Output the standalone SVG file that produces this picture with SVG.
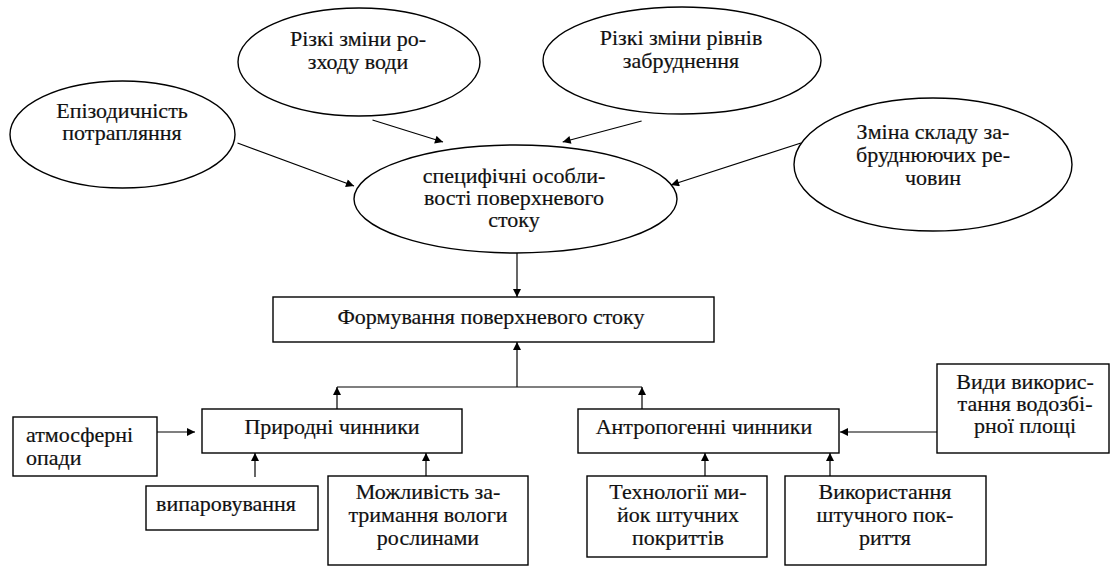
<svg xmlns="http://www.w3.org/2000/svg" width="1113" height="566" viewBox="0 0 1113 566">
<style>
.n{fill:#fff;stroke:#000;stroke-width:1.4}
.t{font-family:"Liberation Serif","Times New Roman","DejaVu Serif",serif;font-size:22px;fill:#111;stroke:#111;stroke-width:0.2;text-anchor:middle}
.l{text-anchor:start}
.c{fill:none;stroke:#000;stroke-width:1.2}
</style>
<defs>
<marker id="ah" viewBox="0 0 10 10" refX="10" refY="5" markerWidth="9" markerHeight="8" orient="auto" markerUnits="userSpaceOnUse">
<path d="M0,0 L10,5 L0,10 z" fill="#000"/>
</marker>
</defs>
<rect width="1113" height="566" fill="#fff"/>
<g id="connectors">
<path class="c" d="M237.5,143 L354,186" marker-end="url(#ah)"/>
<path class="c" d="M372.5,120 L443,142" marker-end="url(#ah)"/>
<path class="c" d="M641.6,121 L562.7,142" marker-end="url(#ah)"/>
<path class="c" d="M801,143 L671,185" marker-end="url(#ah)"/>
<path class="c" d="M517,253 L517,297" marker-end="url(#ah)"/>
<path class="c" d="M517,387 L517,342" marker-end="url(#ah)"/>
<path class="c" d="M337,387 L642,387"/>
<path class="c" d="M337,409 L337,387" marker-end="url(#ah)"/>
<path class="c" d="M642,409 L642,387" marker-end="url(#ah)"/>
<path class="c" d="M157,432 L195,432" marker-end="url(#ah)"/>
<path class="c" d="M255,477 L255,453" marker-end="url(#ah)"/>
<path class="c" d="M426,476 L426,453" marker-end="url(#ah)"/>
<path class="c" d="M937,432 L840,432" marker-end="url(#ah)"/>
<path class="c" d="M705,476 L705,453" marker-end="url(#ah)"/>
<path class="c" d="M830,476 L830,453" marker-end="url(#ah)"/>
</g>
<g id="episodic">
<ellipse class="n" cx="122.5" cy="134.5" rx="112.5" ry="53.5"/>
<text class="t" x="122" y="118">Епізодичність</text>
<text class="t" x="122" y="140">потрапляння</text>
</g>
<g id="flow-changes">
<ellipse class="n" cx="359" cy="62" rx="121" ry="54"/>
<text class="t" x="358" y="46">Різкі зміни ро-</text>
<text class="t" x="358" y="69">зходу води</text>
</g>
<g id="pollution-changes">
<ellipse class="n" cx="682" cy="60.5" rx="139" ry="53.5"/>
<text class="t" x="681" y="45">Різкі зміни рівнів</text>
<text class="t" x="681" y="68">забруднення</text>
</g>
<g id="composition">
<ellipse class="n" cx="933" cy="164.5" rx="139" ry="66.5"/>
<text class="t" x="933" y="139">Зміна складу за-</text>
<text class="t" x="933" y="162">бруднюючих ре-</text>
<text class="t" x="933" y="185">човин</text>
</g>
<g id="specific">
<ellipse class="n" cx="515.5" cy="199" rx="161.5" ry="54"/>
<text class="t" x="514" y="183">специфічні особли-</text>
<text class="t" x="514" y="205">вості поверхневого</text>
<text class="t" x="514" y="227">стоку</text>
</g>
<g id="formation">
<rect class="n" x="273" y="297" width="441" height="45"/>
<text class="t" x="491" y="324">Формування поверхневого стоку</text>
</g>
<g id="natural">
<rect class="n" x="202" y="409" width="260" height="44"/>
<text class="t" x="332" y="434">Природні чинники</text>
</g>
<g id="anthropogenic">
<rect class="n" x="578" y="409" width="261" height="44"/>
<text class="t" x="704" y="434">Антропогенні чинники</text>
</g>
<g id="precipitation">
<rect class="n" x="13" y="417" width="144" height="59"/>
<text class="t l" x="26" y="442">атмосферні</text>
<text class="t l" x="26" y="465">опади</text>
</g>
<g id="evaporation">
<rect class="n" x="146" y="486" width="172" height="44"/>
<text class="t" x="226" y="511">випаровування</text>
</g>
<g id="retention">
<rect class="n" x="328" y="476" width="200" height="89"/>
<text class="t" x="428" y="499">Можливість за-</text>
<text class="t" x="428" y="522">тримання вологи</text>
<text class="t" x="428" y="545">рослинами</text>
</g>
<g id="land-use">
<rect class="n" x="937" y="364" width="172" height="89"/>
<text class="t" x="1025" y="389">Види викорис-</text>
<text class="t" x="1025" y="411">тання водозбі-</text>
<text class="t" x="1025" y="433">рної площі</text>
</g>
<g id="washing">
<rect class="n" x="587" y="476" width="180" height="81"/>
<text class="t" x="678" y="499">Технології ми-</text>
<text class="t" x="678" y="522">йок штучних</text>
<text class="t" x="678" y="545">покриттів</text>
</g>
<g id="coverage">
<rect class="n" x="785" y="476" width="201" height="89"/>
<text class="t" x="885" y="499">Використання</text>
<text class="t" x="885" y="522">штучного пок-</text>
<text class="t" x="885" y="545">риття</text>
</g>
</svg>
